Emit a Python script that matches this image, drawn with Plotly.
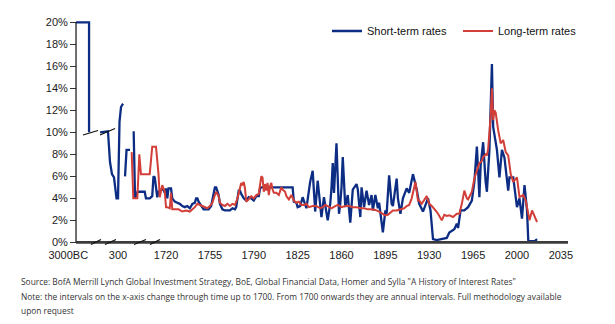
import plotly.graph_objects as go

# ---------------- data ----------------
# x axis is broken before 1700; early observations are given as positions on the compressed axis
SHORT_EARLY_POS = [1648.2, 1658.6, 1658.6, None,
                   1667.4, 1673.7, 1675.3, 1676.9, 1678.5, 1680.5, 1681.7, 1682.9, 1684.1, 1685.7, None,
                   1687.3, 1688.5, 1691.3, None,
                   1693.4, 1694.2, 1695.3, 1697.3]
SHORT_EARLY_RATE = [20.0, 20.0, 10.0, None,
                    10.0, 10.1, 7.3, 6.2, 5.9, 4.0, 4.0, 11.0, 12.3, 12.6, None,
                    6.0, 8.4, 8.4, None,
                    10.0, 10.0, 4.0, 4.6]

SHORT_YEARS = [1700, 1703, 1704, 1707, 1709, 1710, 1711, 1712, 1713, 1714, 1716, 1718, 1719, 1720,
               1721, 1722, 1724, 1725, 1727, 1729, 1731, 1733, 1735, 1737, 1739, 1741, 1743, 1744,
               1745, 1746, 1748, 1750, 1752, 1754, 1756, 1758, 1759, 1760, 1761, 1762, 1763, 1765,
               1767, 1769, 1771, 1773, 1775, 1776, 1777, 1778, 1779, 1780, 1782, 1784, 1786, 1788,
               1790, 1792, 1794, 1795, 1796, 1797, 1821, 1822, 1824, 1825, 1827, 1829, 1831, 1832,
               1835, 1837, 1839, 1841, 1843, 1844, 1846, 1847, 1849, 1851, 1852, 1853, 1854, 1856,
               1857, 1858, 1859, 1860, 1861, 1862, 1863, 1865, 1867, 1869, 1872, 1873, 1875, 1876,
               1878, 1880, 1882, 1884, 1885, 1887, 1889, 1890, 1892, 1893, 1895, 1896, 1898, 1900,
               1901, 1904, 1905, 1907, 1909, 1912, 1914, 1917, 1920, 1922, 1925, 1929, 1931, 1933,
               1936, 1939, 1944, 1946, 1950, 1952, 1953, 1955, 1958, 1961, 1964, 1966, 1968, 1969,
               1970, 1971, 1973, 1975, 1976, 1978, 1980, 1981, 1982, 1984, 1986, 1988, 1990, 1993,
               1994, 1997, 2000, 2002, 2004, 2006, 2008, 2009, 2010, 2014, 2016]
SHORT_RATE = [4.6, 4.6, 4.0, 4.0, 4.2, 6.0, 5.9, 5.0, 4.1, 4.6, 4.8, 4.8, 4.5, 4.9,
              4.0, 4.9, 4.9, 4.0, 3.7, 3.6, 3.5, 3.3, 3.2, 3.3, 3.1, 3.5, 3.6, 4.0,
              4.0, 3.7, 3.3, 3.0, 3.0, 3.0, 3.3, 4.3, 5.0, 5.0, 4.6, 4.3, 3.5, 3.0,
              2.9, 2.9, 2.9, 3.1, 3.0, 3.2, 4.0, 4.7, 4.7, 4.4, 4.0, 3.8, 4.1, 4.0,
              3.8, 4.2, 4.2, 4.9, 5.0, 5.0, 5.0, 3.7, 3.6, 3.2, 3.3, 4.1, 3.5, 3.1,
              5.5, 6.5, 2.8, 5.6, 3.4, 2.3, 4.1, 3.5, 2.0, 3.5, 4.9, 7.2, 4.5, 9.0,
              5.5, 2.6, 3.5, 5.0, 7.75, 4.8, 3.2, 4.3, 1.8, 4.8, 5.3, 4.8, 2.3, 5.0,
              3.2, 4.7, 3.4, 4.3, 2.9, 4.3, 3.1, 3.6, 1.4, 0.9, 2.9, 2.6, 6.1, 3.5,
              3.3, 5.8, 4.0, 2.6, 4.0, 4.9, 4.5, 6.2, 4.8, 3.5, 2.8, 4.0, 2.9, 0.3,
              0.2, 0.3, 0.4, 0.9, 1.2, 1.7, 1.3, 2.9, 2.9, 3.2, 3.8, 5.5, 8.7, 6.5,
              4.1, 7.0, 9.1, 5.5, 4.6, 8.4, 16.2, 10.5, 9.8, 8.4, 5.9, 8.4, 7.7, 4.7,
              5.9, 5.9, 3.2, 4.0, 2.15, 5.2, 2.9, 0.2, 0.1, 0.1, 0.3]

LONG_EARLY_POS = [1692.6, 1693.9, 1697.1, 1698.7]
LONG_EARLY_RATE = [8.2, 4.0, 4.0, 8.0]

LONG_YEARS = [1700, 1707, 1709, 1712, 1714, 1715, 1717, 1719, 1720, 1721, 1723, 1724, 1725, 1727,
              1730, 1733, 1736, 1739, 1741, 1743, 1745, 1747, 1749, 1751, 1753, 1755, 1757, 1759,
              1760, 1762, 1763, 1765, 1767, 1769, 1771, 1773, 1775, 1777, 1779, 1780, 1781, 1782,
              1783, 1784, 1786, 1788, 1790, 1792, 1794, 1795, 1796, 1797, 1798, 1799, 1800, 1801,
              1802, 1803, 1804, 1805, 1806, 1808, 1810, 1812, 1813, 1815, 1816, 1818, 1820, 1822,
              1824, 1826, 1828, 1830, 1832, 1834, 1837, 1840, 1843, 1845, 1847, 1849, 1852, 1855,
              1857, 1860, 1863, 1866, 1869, 1872, 1875, 1878, 1881, 1884, 1887, 1890, 1893, 1895,
              1897, 1899, 1901, 1904, 1907, 1910, 1912, 1914, 1916, 1917, 1918, 1919, 1921, 1922,
              1924, 1926, 1928, 1930, 1932, 1935, 1937, 1940, 1942, 1944, 1946, 1949, 1952, 1954,
              1956, 1958, 1960, 1961, 1963, 1964, 1966, 1968, 1970, 1972, 1973, 1975, 1976, 1977,
              1978, 1979, 1980, 1981, 1982, 1983, 1985, 1987, 1989, 1991, 1993, 1995, 1997, 2000,
              2002, 2005, 2007, 2009, 2010, 2012, 2014, 2016]
LONG_RATE = [6.2, 6.2, 8.7, 8.7, 6.2, 4.1, 5.2, 4.6, 3.2, 3.2, 3.1, 4.5, 3.0, 3.0,
             3.0, 2.8, 2.9, 2.8, 3.0, 3.2, 3.5, 3.4, 3.3, 3.2, 3.1, 3.3, 3.6, 4.3,
             4.6, 4.2, 3.6, 3.4, 3.3, 3.5, 3.3, 3.5, 3.4, 4.0, 5.0, 5.4, 5.2, 5.5,
             4.9, 3.7, 3.9, 4.2, 4.0, 4.3, 4.4, 5.2, 6.0, 5.9, 4.6, 5.3, 4.7, 5.4,
             4.3, 5.1, 5.4, 4.8, 4.5, 4.5, 4.3, 5.0, 4.8, 4.6, 4.2, 3.9, 4.3, 3.8,
             3.6, 3.7, 3.4, 3.4, 3.5, 3.2, 3.3, 3.3, 3.1, 3.2, 3.4, 3.3, 3.1, 3.3,
             3.4, 3.2, 3.3, 3.3, 3.2, 3.2, 3.1, 3.1, 3.0, 3.0, 2.95, 2.8, 2.6, 2.45,
             2.5, 2.7, 2.9, 2.9, 3.0, 3.1, 3.3, 3.4, 4.0, 4.6, 5.2, 5.5, 3.8, 3.8,
             3.5, 3.9, 4.2, 3.5, 3.3, 2.9, 2.6, 2.0, 2.5, 2.4, 2.45, 2.3, 2.6, 2.6,
             3.5, 4.7, 4.0, 3.9, 4.3, 4.6, 5.8, 6.5, 7.2, 7.4, 7.75, 8.0, 7.9, 8.5,
             9.7, 11.5, 14.0, 11.1, 12.0, 11.8, 10.2, 9.0, 9.3, 8.2, 7.9, 6.2, 5.5, 5.9,
             4.1, 4.3, 3.8, 2.6, 2.0, 2.9, 2.4, 1.85]

TICK_POS = [1642.0, 1681.7, 1720, 1755, 1790, 1825, 1860, 1895, 1930, 1965, 2000, 2035]
TICK_TEXT = ["3000BC", "300", "1720", "1755", "1790", "1825", "1860", "1895", "1930", "1965", "2000", "2035"]
Y_TICKS = list(range(0, 21, 2))
Y_TICK_TEXT = [f"{v}%" for v in Y_TICKS]

SOURCE = ('Source: BofA Merrill Lynch Global Investment Strategy, BoE, Global Financial Data, '
          'Homer and Sylla "A History of Interest Rates"')
NOTE1 = ('Note: the intervals on the x-axis change through time up to 1700. From 1700 onwards '
         'they are annual intervals. Full methodology available')
NOTE2 = 'upon request'

# ---------------- figure ----------------
BLUE = "#0c2d83"
RED = "#d23e38"
W, H = 615, 324
ML, MR, MT, MB = 68, 47, 19, 80
PW, PH = W - ML - MR, H - MT - MB
X0, X1 = 1641.8, 2040.7
Y0, Y1 = -0.15, 20.3
AXIS_START = 1648.2


def px_x(px):
    return (px - ML) / PW


def px_y(py):
    return (H - MB - py) / PH


fig = go.Figure()
fig.add_trace(go.Scatter(x=SHORT_EARLY_POS + SHORT_YEARS, y=SHORT_EARLY_RATE + SHORT_RATE,
                         mode="lines", name="Short-term rates", connectgaps=False,
                         line=dict(color=BLUE, width=2.3)))
fig.add_trace(go.Scatter(x=LONG_EARLY_POS + LONG_YEARS, y=LONG_EARLY_RATE + LONG_RATE,
                         mode="lines", name="Long-term rates",
                         line=dict(color=RED, width=2.0)))

shapes = [
    dict(type="line", xref="x", yref="y", x0=AXIS_START, x1=X1, y0=0, y1=0,
         line=dict(color="#3c3c3c", width=2.6)),
    dict(type="line", xref="x", yref="y", x0=AXIS_START, x1=AXIS_START, y0=0, y1=20,
         line=dict(color="#222222", width=1.3)),
]
# axis-break marks (decoration, in pixel space)
breaks = [((91, 244.5), (101, 239.5)), ((105, 244.5), (116, 239.5)),
          ((134, 244.5), (146, 239.5)), ((150, 244.5), (160, 239.5)),
          ((83, 135), (98, 130.5)), ((100, 135), (115, 128.5))]
for (ax, ay), (bx, by) in breaks:
    shapes.append(dict(type="line", xref="paper", yref="paper",
                       x0=px_x(ax), y0=px_y(ay), x1=px_x(bx), y1=px_y(by),
                       line=dict(color="#111111", width=1.3)))

foot_font = dict(family="Open Sans, Noto Sans, sans-serif", size=8.4, color="#333333")
annotations = []
for txt, py in [(SOURCE, 281), (NOTE1, 296), (NOTE2, 310)]:
    annotations.append(dict(text=txt, xref="paper", yref="paper", x=px_x(19), y=px_y(py),
                            xanchor="left", yanchor="middle", showarrow=False, font=foot_font))

fig.update_layout(
    width=W, height=H,
    margin=dict(l=ML, r=MR, t=MT, b=MB, pad=0),
    paper_bgcolor="white", plot_bgcolor="white",
    font=dict(family="Liberation Sans, Arial, sans-serif", size=11, color="#1a1a1a"),
    xaxis=dict(range=[X0, X1], tickvals=TICK_POS, ticktext=TICK_TEXT, showgrid=False,
               zeroline=False, showline=False, ticks="", tickfont=dict(size=11),
               ticklabelstandoff=3),
    yaxis=dict(range=[Y0, Y1], tickvals=Y_TICKS, ticktext=Y_TICK_TEXT, showgrid=False,
               zeroline=False, showline=False, ticks="outside", ticklen=6, tickwidth=1,
               tickcolor="#333333", anchor="free", position=px_x(76), tickfont=dict(size=11)),
    showlegend=True,
    legend=dict(orientation="h", x=px_x(327), y=px_y(31), xanchor="left", yanchor="middle",
                font=dict(size=11, color="#111111"), bgcolor="rgba(0,0,0,0)",
                traceorder="normal", entrywidth=86, entrywidthmode="pixels"),
    shapes=shapes,
    annotations=annotations,
)

fig.write_html("out.html")
